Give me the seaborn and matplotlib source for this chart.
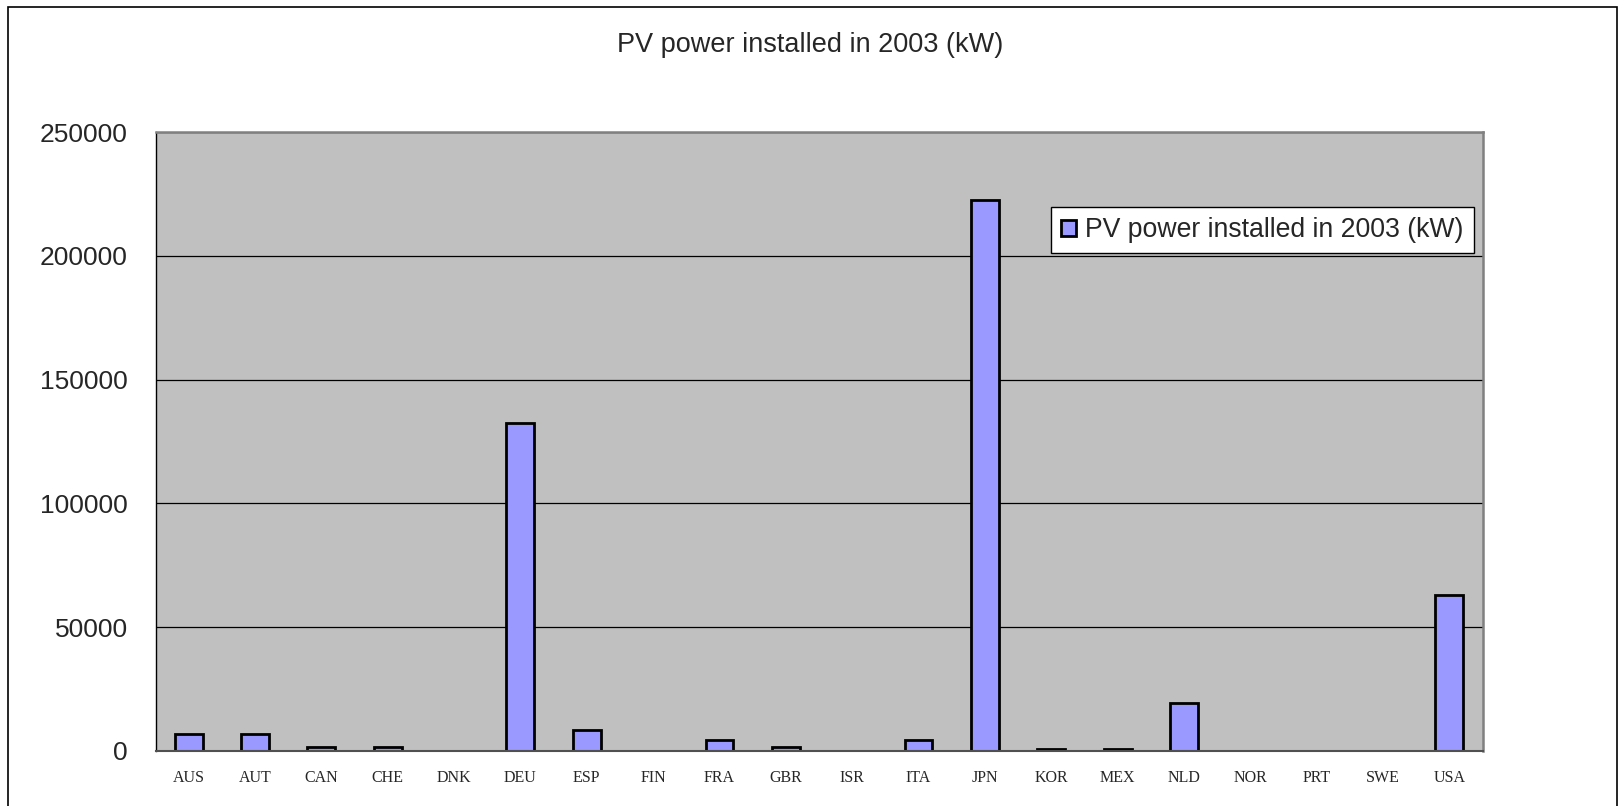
import matplotlib
matplotlib.use("Agg")
import matplotlib.pyplot as plt
import seaborn as sns
import pandas as pd
from matplotlib.patches import Rectangle

countries = ["AUS", "AUT", "CAN", "CHE", "DNK", "DEU", "ESP", "FIN", "FRA", "GBR",
             "ISR", "ITA", "JPN", "KOR", "MEX", "NLD", "NOR", "PRT", "SWE", "USA"]
installed_kw = [6800, 6800, 1800, 1800, 0, 132600, 8500, 0, 4300, 1800,
                0, 4300, 222600, 1000, 1000, 19300, 0, 0, 0, 62900]
series_name = "PV power installed in 2003 (kW)"
yticks = [0, 50000, 100000, 150000, 200000, 250000]

df = pd.DataFrame({"country": countries, "kw": installed_kw})

sns.set_style("white")
plt.rcParams["font.family"] = ["Liberation Sans", "DejaVu Sans"]

fig = plt.figure(figsize=(16.2, 8.06), dpi=100)
ax = fig.add_axes([155.5 / 1620, 55 / 806, 1327 / 1620, 619 / 806])
ax.set_facecolor("#C0C0C0")

sns.barplot(data=df, x="country", y="kw", color="#9999FF", saturation=1,
            edgecolor="black", linewidth=2.0, width=0.42, label=series_name, ax=ax)

# empty categories show no bar at all
for bar in ax.patches:
    if bar.get_height() == 0:
        bar.set_visible(False)

ax.set_ylim(0, 250000)
ax.set_xlim(-0.5, len(countries) - 0.5)
ax.set_yticks(yticks)
ax.set_yticklabels([str(v) for v in yticks], fontsize=19)
ax.yaxis.grid(True, color="black", linewidth=0.9)
ax.set_axisbelow(True)
ax.set_xlabel("")
ax.set_ylabel("")

# category ticks sit on the boundaries, labels in between
ax.set_xticks([i - 0.5 for i in range(len(countries) + 1)], minor=False)
ax.set_xticklabels([])
ax.set_xticks(range(len(countries)), minor=True)
ax.set_xticklabels(countries, minor=True, fontsize=11.5, family="Liberation Serif")
ax.tick_params(axis="x", which="major", direction="out", length=5, width=1, color="#606060")
ax.tick_params(axis="x", which="minor", length=0, pad=14)
ax.tick_params(axis="y", direction="out", length=8, width=1, color="black", pad=12)

for side in ["top", "right"]:
    ax.spines[side].set_visible(True)
    ax.spines[side].set_color("#808080")
    ax.spines[side].set_linewidth(1.8)
ax.spines["left"].set_color("black")
ax.spines["left"].set_linewidth(1)
ax.spines["bottom"].set_color("#505050")
ax.spines["bottom"].set_linewidth(1.5)

leg = ax.legend(loc="upper left", bbox_to_anchor=(0.675, 0.879), borderaxespad=0,
                fontsize=19.2, fancybox=False, framealpha=1, edgecolor="black",
                borderpad=0.38, handlelength=0.55, handleheight=0.55, handletextpad=0.35)
leg.get_frame().set_linewidth(1)

fig.text(0.5, 1 - 45 / 806, series_name, ha="center", va="center", fontsize=19.5)

fig.patches.append(Rectangle((8 / 1620, -0.02), 1609 / 1620, 1 - 7 / 806 + 0.02,
                             transform=fig.transFigure, fill=False,
                             edgecolor="black", linewidth=1.2, clip_on=False))

fig.savefig("out.png", dpi=100)
